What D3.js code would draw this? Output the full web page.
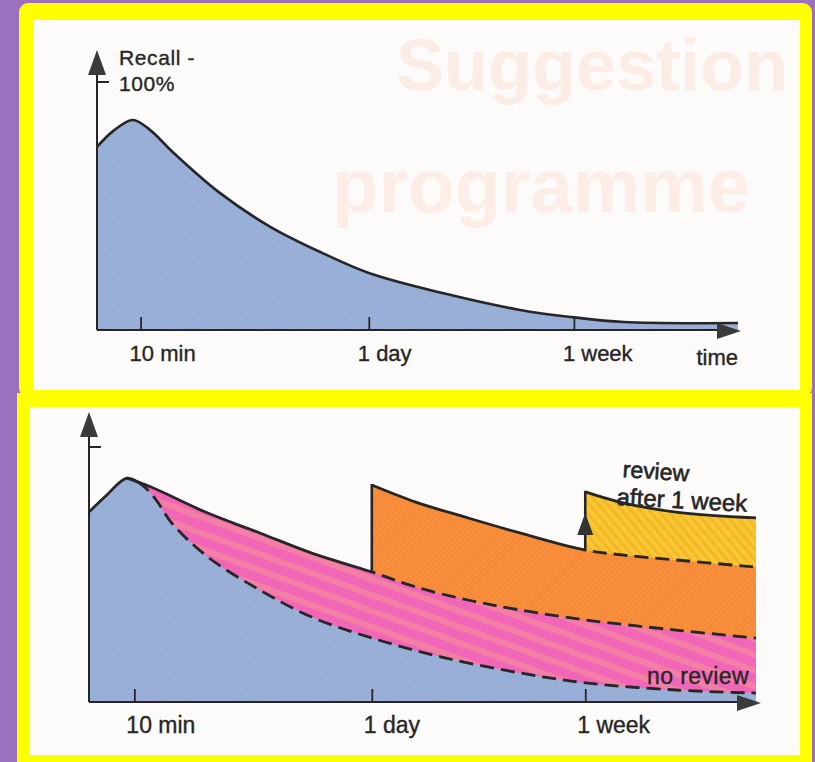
<!DOCTYPE html>
<html>
<head>
<meta charset="utf-8">
<script src="https://cdn.jsdelivr.net/npm/d3@7"></script>
<style>
  html, body { margin: 0; padding: 0; background: #9a70bf; }
  svg { display: block; }
  text { font-family: "Liberation Sans", Arial, sans-serif; fill: #262626; }
  text.ink { stroke: #262626; stroke-width: 0.35px; }
</style>
</head>
<body>
<div id="chart"></div>
<script>
// time runs 0..100 along the arrow (not to scale), recall is % of the "100%" mark
const tickTimes = [6.8, 42.4, 74.4]
const tickLabels = ['10 min', '1 day', '1 week']

// top panel: a single forgetting curve
const recallTime = [0, 2.5, 5.6, 8.3, 11.8, 19.0, 27.1, 35.2, 42.4, 53.9, 66.0, 74.1, 82.2, 100]
const recallValue = [73.8, 80.2, 84.7, 80.6, 71.8, 55.6, 41.5, 31.0, 23.0, 14.9, 8.1, 5.2, 3.2, 2.8]

// bottom panel: no review and reviews after 10 min, 1 day, 1 week
const noReviewTime = [0, 2.6, 5.7, 8.0, 10.0, 12.4, 17.8, 25.6, 33.4, 42.4, 52.9, 64.6, 74.4, 88.0, 100]
const noReviewValue = [74.5, 81.0, 87.8, 85.0, 79.5, 70.2, 56.9, 43.9, 33.3, 25.1, 17.6, 11.4, 7.5, 4.7, 3.5]
const review10Time = [5.7, 9.3, 17.8, 25.6, 33.4, 42.4, 49.0, 56.8, 64.6, 74.4, 88.0, 100]
const review10Value = [87.8, 84.3, 74.1, 66.3, 58.4, 51.0, 45.1, 40.0, 36.1, 32.2, 28.2, 25.1]
const review1dTime = [42.4, 49.0, 56.8, 64.6, 74.4, 80.2, 88.0, 100]
const review1dValue = [85.1, 78.4, 72.2, 66.3, 59.6, 57.6, 55.7, 52.9]
const review1wTime = [74.4, 80.2, 88.0, 100]
const review1wValue = [82.4, 78.0, 74.5, 72.2]

const width = 815
const height = 762
const ink = '#262626'

const svg = d3.create('svg').attr('width', width).attr('height', height)
const defs = svg.append('defs')

// textures of the printed fills
function stripes(id, base, line, size, lineWidth, angle) {
  const p = defs.append('pattern')
    .attr('id', id)
    .attr('patternUnits', 'userSpaceOnUse')
    .attr('width', size).attr('height', size)
    .attr('patternTransform', `rotate(${angle})`)
  p.append('rect').attr('width', size).attr('height', size).attr('fill', base)
  p.append('rect').attr('width', lineWidth).attr('height', size).attr('fill', line)
}
stripes('blueFill', '#93aadc', '#a3b9cb', 3, 1, 40)
stripes('pinkFill', '#f266b7', '#f47fa4', 15, 6, -70)
stripes('orangeFill', '#f8903b', '#f5893a', 4, 2, 45)
stripes('yellowFill', '#f9c830', '#f3b429', 7, 2.5, -40)

// purple page, yellow frames, paper
svg.append('rect').attr('width', width).attr('height', height).attr('fill', '#9a70bf')
svg.append('rect').attr('x', 19).attr('y', 3).attr('width', 793).attr('height', 394)
  .attr('rx', 9).attr('fill', '#ffff00')
svg.append('rect').attr('x', 17).attr('y', 393).attr('width', 795).attr('height', 375)
  .attr('fill', '#ffff00')

const panels = [
  { top: 20, bottom: 390, left: 33, right: 800, x0: 97, x1: 738, yBase: 330, yTop: 82, tipY: 50, tipX: 741 },
  { top: 407, bottom: 755, left: 30, right: 800, x0: 89, x1: 756, yBase: 702, yTop: 447, tipY: 412, tipX: 761 },
]

panels.forEach(p => {
  svg.append('rect').attr('x', p.left).attr('y', p.top)
    .attr('width', p.right - p.left).attr('height', p.bottom - p.top)
    .attr('fill', '#fdfbf9')
})

// faint print showing through from the other side of the page
svg.append('text').attr('x', 396).attr('y', 90)
  .style('font-size', '72px').style('font-weight', 'bold').style('fill', '#fcece6')
  .text('Suggestion')
svg.append('text').attr('x', 332).attr('y', 212)
  .style('font-size', '76px').style('font-weight', 'bold').style('fill', '#fcede7')
  .text('programme')

function makeScales(p) {
  const x = d3.scaleLinear().domain([0, 100]).range([p.x0, p.x1])
  const y = d3.scaleLinear().domain([0, 100]).range([p.yBase, p.yTop])
  return { x, y }
}

function toPoints(times, values) {
  return times.map((t, i) => [t, values[i]])
}

function drawAxes(g, p, x, y, labelDx, fontSize) {
  // y axis with arrow
  g.append('line').attr('x1', x(0)).attr('x2', x(0))
    .attr('y1', y(0)).attr('y2', p.tipY + 10)
    .attr('stroke', ink).attr('stroke-width', 2)
  g.append('path')
    .attr('d', `M${x(0)},${p.tipY} L${x(0) - 9},${p.tipY + 25} L${x(0) + 9},${p.tipY + 25} Z`)
    .attr('fill', '#3a3a3a')
  g.append('line').attr('x1', x(0)).attr('x2', x(0) + 12)
    .attr('y1', y(100)).attr('y2', y(100))
    .attr('stroke', ink).attr('stroke-width', 2)

  // x axis with arrow
  g.append('line').attr('x1', x(0)).attr('x2', p.tipX - 10)
    .attr('y1', y(0)).attr('y2', y(0))
    .attr('stroke', ink).attr('stroke-width', 2.2)
  g.append('path')
    .attr('d', `M${p.tipX},${y(0) + 1} L${p.tipX - 24},${y(0) - 7} L${p.tipX - 24},${y(0) + 9} Z`)
    .attr('fill', '#3a3a3a')

  const axis = d3.axisTop(x).tickValues(tickTimes).tickSize(13).tickFormat('')
  const ax = g.append('g').attr('transform', `translate(0,${y(0)})`).call(axis)
  ax.select('.domain').remove()
  ax.selectAll('.tick line').attr('stroke', ink).attr('stroke-width', 1.8)

  g.selectAll('.tlabel').data(tickTimes).join('text')
    .attr('class', 'tlabel ink')
    .attr('x', d => x(d) - labelDx)
    .attr('y', y(0) + 31)
    .style('font-size', fontSize)
    .text((d, i) => tickLabels[i])
}

const curve = d3.curveCatmullRom.alpha(0.5)

// ---------- top panel ----------
{
  const p = panels[0]
  const { x, y } = makeScales(p)
  const g = svg.append('g')
  const pts = toPoints(recallTime, recallValue)

  const area = d3.area().x(d => x(d[0])).y0(y(0)).y1(d => y(d[1])).curve(curve)
  const line = d3.line().x(d => x(d[0])).y(d => y(d[1])).curve(curve)

  g.append('path').attr('d', area(pts)).attr('fill', 'url(#blueFill)')
  g.append('path').attr('d', line(pts)).attr('fill', 'none')
    .attr('stroke', ink).attr('stroke-width', 2.6).attr('stroke-linejoin', 'round')

  drawAxes(g, p, x, y, 11, '22px')

  g.append('text').attr('class', 'ink').attr('x', x(0) + 22).attr('y', y(100) - 17)
    .style('font-size', '21px').style('letter-spacing', '0.6px').text('Recall -')
  g.append('text').attr('class', 'ink').attr('x', x(0) + 22).attr('y', y(100) + 9)
    .style('font-size', '21px').style('letter-spacing', '0.6px').text('100%')
  g.append('text').attr('class', 'ink').attr('x', p.x1).attr('y', y(0) + 35)
    .attr('text-anchor', 'end').style('font-size', '22px').text('time')
}

// ---------- bottom panel ----------
{
  const p = panels[1]
  const { x, y } = makeScales(p)
  const g = svg.append('g')

  const area = d3.area().x(d => x(d[0])).y0(y(0)).y1(d => y(d[1])).curve(curve)
  const line = d3.line().x(d => x(d[0])).y(d => y(d[1])).curve(curve)

  const noReview = toPoints(noReviewTime, noReviewValue)
  const review10 = toPoints(review10Time, review10Value)
  const review1d = toPoints(review1dTime, review1dValue)
  const review1w = toPoints(review1wTime, review1wValue)

  // higher curves underneath, lower ones painted over them
  g.append('path').attr('d', area(review1w)).attr('fill', 'url(#yellowFill)')
  g.append('path').attr('d', area(review1d)).attr('fill', 'url(#orangeFill)')
  g.append('path').attr('d', area(review10)).attr('fill', 'url(#pinkFill)')
  g.append('path').attr('d', area(noReview)).attr('fill', 'url(#blueFill)')

  // clip bands so one curve can be solid then dashed
  function band(id, from, to) {
    defs.append('clipPath').attr('id', id)
      .append('rect').attr('x', x(from)).attr('y', p.top)
      .attr('width', x(to) - x(from)).attr('height', p.bottom - p.top)
    return `url(#${id})`
  }
  function stroke(pts, clip, dashed) {
    g.append('path').attr('d', line(pts)).attr('fill', 'none')
      .attr('clip-path', clip)
      .attr('stroke', ink).attr('stroke-width', 2.8)
      .attr('stroke-dasharray', dashed ? '14 7' : null)
  }

  stroke(noReview, band('nrSolid', -2, 8), false)
  stroke(noReview, band('nrDash', 8, 101), true)
  stroke(review10, band('r10Solid', 0, 42.4), false)
  stroke(review10, band('r10Dash', 42.4, 101), true)
  stroke(review1d, band('r1dSolid', 42.4, 74.4), false)
  stroke(review1d, band('r1dDash', 74.4, 101), true)
  stroke(review1w, null, false)

  // jumps where the review happens
  g.append('line')
    .attr('x1', x(review1dTime[0])).attr('x2', x(review1dTime[0]))
    .attr('y1', y(review10Value[5]) + 1).attr('y2', y(review1dValue[0]) - 1)
    .attr('stroke', ink).attr('stroke-width', 2.6)
  const wx = x(review1wTime[0])
  g.append('line')
    .attr('x1', wx).attr('x2', wx)
    .attr('y1', y(review1dValue[4]) + 1).attr('y2', y(review1wValue[0]) - 1)
    .attr('stroke', ink).attr('stroke-width', 2.6)
  const ay = y(review1dValue[4]) - 37
  g.append('path')
    .attr('d', `M${wx},${ay} L${wx - 8},${ay + 22} L${wx + 8},${ay + 22} Z`)
    .attr('fill', '#333')

  drawAxes(g, p, x, y, 8, '23px')

  g.append('text').attr('class', 'ink')
    .attr('transform', `translate(${wx + 37},${y(review1wValue[0]) - 15}) rotate(4)`)
    .style('font-size', '23px').style('stroke-width', '0.6px').text('review')
  g.append('text').attr('class', 'ink')
    .attr('transform', `translate(${wx + 31},${y(review1wValue[0]) + 13}) rotate(3)`)
    .style('font-size', '24px').style('stroke-width', '0.6px').text('after 1 week')

  g.append('text').attr('class', 'ink')
    .attr('x', x(100) - 7).attr('y', y(noReviewValue[13]) - 6)
    .attr('text-anchor', 'end').style('font-size', '23px').style('letter-spacing', '0.4px')
    .text('no review')
}

document.getElementById('chart').appendChild(svg.node())
</script>
</body>
</html>
